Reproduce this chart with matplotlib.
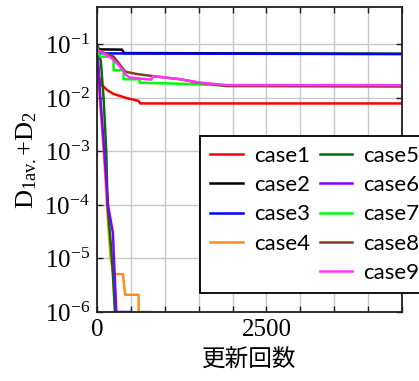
import matplotlib
matplotlib.use("Agg")
import matplotlib.pyplot as plt
from matplotlib.lines import Line2D
from matplotlib.ticker import MultipleLocator, LogLocator, LogFormatterMathtext, NullLocator

plt.rcParams['mathtext.fontset'] = 'custom'
plt.rcParams['mathtext.rm'] = 'Liberation Serif'
plt.rcParams['mathtext.it'] = 'Liberation Serif:italic'

# iteration counts and objective values for each case
case1_x = [0, 30, 60, 97, 150, 245, 350, 442, 540, 614, 639, 4500]
case1_y = [0.08, 0.025, 0.0175, 0.0163, 0.0140, 0.0119, 0.0108, 0.0099, 0.0093, 0.0088, 0.0079, 0.0079]

case2_x = [0, 25, 60, 369, 400, 4500]
case2_y = [0.1, 0.082, 0.081, 0.080, 0.069, 0.067]

case3_x = [0, 40, 100, 4500]
case3_y = [0.085, 0.07, 0.068, 0.066]

case4_x = [0, 40, 100, 147, 200, 245, 383, 395, 417, 614, 614, 786]
case4_y = [0.08, 1e-2, 1e-3, 1e-4, 1e-5, 5.1e-6, 5.1e-6, 3.5e-6, 2.1e-6, 2.1e-6, 1e-6, 1e-6]

case5_x = [0, 56, 97, 137, 156, 221, 265]
case5_y = [0.09, 0.05, 1e-2, 1e-3, 1e-4, 1e-5, 1e-6]

case6_x = [0, 49, 108, 162, 235, 250, 285, 491]
case6_y = [0.085, 1e-2, 1e-3, 1e-4, 3e-5, 1e-5, 1e-6, 1e-6]

case7_x = [0, 20, 49, 245, 245, 393, 393, 629, 629, 1200, 1917, 4500]
case7_y = [0.095, 0.07, 0.059, 0.059, 0.033, 0.033, 0.0224, 0.0224, 0.0193, 0.0185, 0.0172, 0.0167]

case8_x = [0, 245, 344, 417, 590, 885, 1229, 1499, 1700, 1917, 4500]
case8_y = [0.079, 0.059, 0.041, 0.031, 0.028, 0.025, 0.0224, 0.0193, 0.0180, 0.0167, 0.0164]

case9_x = [0, 221, 344, 442, 491, 800, 830, 900, 1229, 1499, 1917, 4500]
case9_y = [0.08, 0.055, 0.038, 0.026, 0.024, 0.022, 0.0255, 0.025, 0.0224, 0.0195, 0.0174, 0.0173]

series = [
    ("case1", case1_x, case1_y, "#ff0000"),
    ("case2", case2_x, case2_y, "#000000"),
    ("case3", case3_x, case3_y, "#0000ff"),
    ("case4", case4_x, case4_y, "#ff8c1a"),
    ("case5", case5_x, case5_y, "#007000"),
    ("case6", case6_x, case6_y, "#8000ff"),
    ("case7", case7_x, case7_y, "#00ff00"),
    ("case8", case8_x, case8_y, "#804020"),
    ("case9", case9_x, case9_y, "#ff33ff"),
]

fig = plt.figure(figsize=(4.19, 3.81), dpi=100)
ax = fig.add_axes([0.2315, 0.1811, 0.7279, 0.8005])

handles = {}
for name, xs, ys, col in series:
    h, = ax.plot(xs, ys, color=col, lw=1.8, label=name)
    handles[name] = h

ax.set_yscale('log')
ax.set_xlim(0, 4500)
ax.set_ylim(1e-6, 10 ** -0.3)

ax.xaxis.set_major_locator(MultipleLocator(2500))
ax.xaxis.set_minor_locator(MultipleLocator(500))
ax.yaxis.set_major_locator(LogLocator(base=10, numticks=10))
ax.yaxis.set_major_formatter(LogFormatterMathtext())
ax.yaxis.set_minor_locator(NullLocator())

ax.grid(True, which='both', axis='x', color='#c8c8c8', lw=1.0)
ax.grid(True, which='major', axis='y', color='#c8c8c8', lw=1.0)
ax.set_axisbelow(True)

ax.tick_params(which='both', direction='in', top=True, right=True,
               length=4.5, width=1.0, color='#202020')
ax.tick_params(which='major', labelsize=18, pad=5)
for lbl in ax.get_xticklabels() + ax.get_yticklabels():
    lbl.set_family('Liberation Serif')
for sp in ax.spines.values():
    sp.set_linewidth(1.3)
    sp.set_color('#202020')

ax.set_xlabel('更新回数', fontsize=17, family=['Noto Sans CJK JP', 'DejaVu Sans'],
              labelpad=6)
ax.set_ylabel(r'D$_{\mathrm{1av.}}$+D$_{\mathrm{2}}$', fontsize=19,
              family='Liberation Serif', labelpad=4)

spacer = Line2D([], [], color='none')
order = ["case1", "case2", "case3", "case4"]
order2 = ["case5", "case6", "case7", "case8", "case9"]
leg_handles = [handles[n] for n in order] + [spacer] + [handles[n] for n in order2]
leg_labels = order + [" "] + order2
leg = ax.legend(leg_handles, leg_labels, ncol=2, loc='lower left',
                bbox_to_anchor=(0.339, 0.062),
                prop={'family': 'Lato', 'size': 16}, frameon=True, fancybox=False,
                edgecolor='black', framealpha=1, handlelength=1.45,
                handletextpad=0.5, columnspacing=0.45, labelspacing=0.42,
                borderpad=0.45, borderaxespad=0)
leg.get_frame().set_linewidth(1.3)

fig.savefig('out.png', dpi=100)
